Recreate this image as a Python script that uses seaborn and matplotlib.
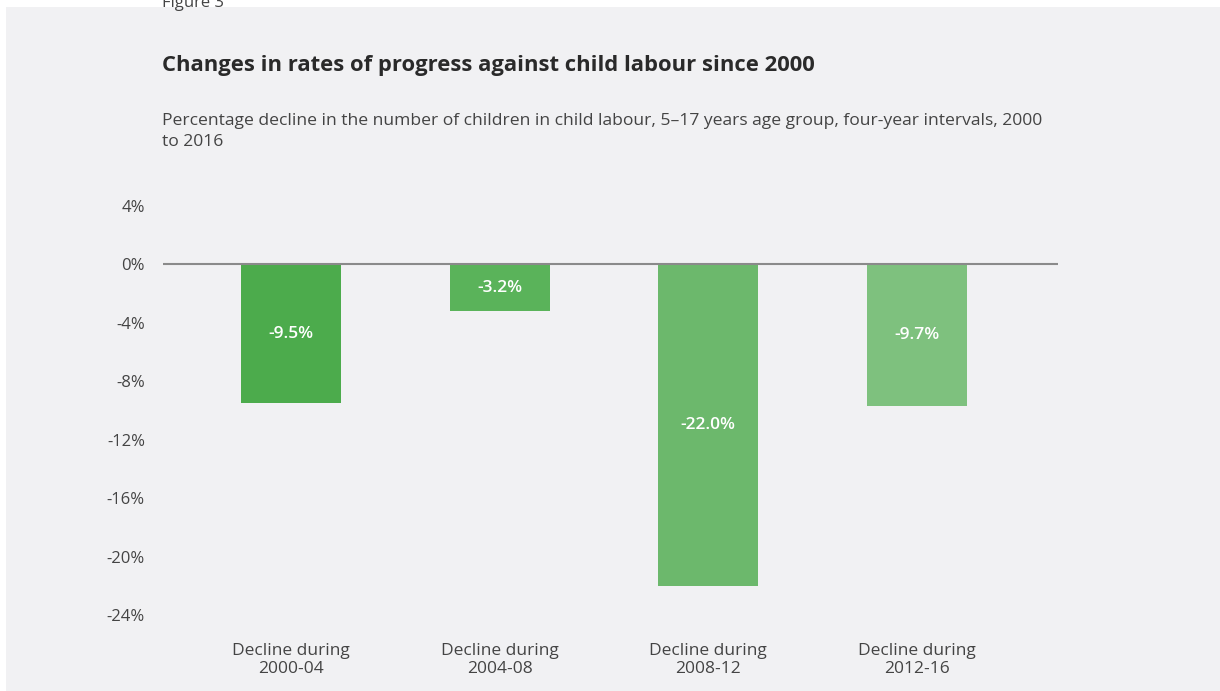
import matplotlib
matplotlib.use("Agg")
import matplotlib.pyplot as plt
import seaborn as sns
import pandas as pd
from matplotlib.patches import Rectangle

categories = ["Decline during\n2000-04", "Decline during\n2004-08", "Decline during\n2008-12", "Decline during\n2012-16"]
values = [-9.5, -3.2, -22.0, -9.7]
value_labels = ["-9.5%", "-3.2%", "-22.0%", "-9.7%"]
colors = ["#4cab4c", "#5ab35a", "#6cb86c", "#7ec17e"]
yticks = [4, 0, -4, -8, -12, -16, -20, -24]
ytick_labels = ["4%", "0%", "-4%", "-8%", "-12%", "-16%", "-20%", "-24%"]

title = "Changes in rates of progress against child labour since 2000"
subtitle = ("Percentage decline in the number of children in child labour, 5\u201317 years age group, four-year intervals, 2000\n"
            "to 2016")

sns.set_theme(style="white")
plt.rcParams['font.family'] = ['Open Sans', 'DejaVu Sans']

W, H = 1220, 691
fig = plt.figure(figsize=(W / 100, H / 100), dpi=100)
fig.patch.set_facecolor("white")
bg = "#f1f1f3"
fig.patches.append(Rectangle((6 / W, 0), 1 - 6 / W, 1 - 7 / H, transform=fig.transFigure,
                             facecolor=bg, edgecolor="none", zorder=-10))

ax = fig.add_axes([163 / W, 1 - 615 / H, (1058 - 163) / W, (615 - 206) / H])
ax.set_facecolor("none")

df = pd.DataFrame({"cat": categories, "val": values})
sns.barplot(data=df, x="cat", y="val", hue="cat", palette=colors, width=0.48,
            legend=False, ax=ax, saturation=1, linewidth=0)

ax.set_xlim(-0.614, 3.676)
ax.set_ylim(-24, 4)
ax.set_yticks(yticks)
ax.set_yticklabels(ytick_labels)
ax.axhline(0, color="#8a8a8a", lw=1.5, zorder=5)
for s in ax.spines.values():
    s.set_visible(False)
ax.set_xlabel("")
ax.set_ylabel("")
ax.tick_params(axis="y", length=0, pad=13, labelsize=12, labelcolor="#444444")
ax.tick_params(axis="x", length=0, pad=20, labelsize=12.5, labelcolor="#444444")
for lbl in ax.get_xticklabels():
    lbl.set_linespacing(1.2)

for i, (v, t) in enumerate(zip(values, value_labels)):
    ax.text(i, v / 2, t, ha="center", va="center", color="white", fontsize=12.5, fontweight="semibold")

fig.text(162 / W, 1 - 7 / H, "Figure 3", ha="left", va="baseline", fontsize=12, color="#444444")
fig.text(162 / W, 1 - 66 / H, title, ha="left", va="center", fontsize=15.8, fontweight="bold", color="#2a2a2a")
fig.text(162 / W, 1 - 113 / H, subtitle, ha="left", va="top", fontsize=12.6, color="#444444", linespacing=1.4)

fig.savefig("out.png", dpi=100, facecolor=fig.get_facecolor())
